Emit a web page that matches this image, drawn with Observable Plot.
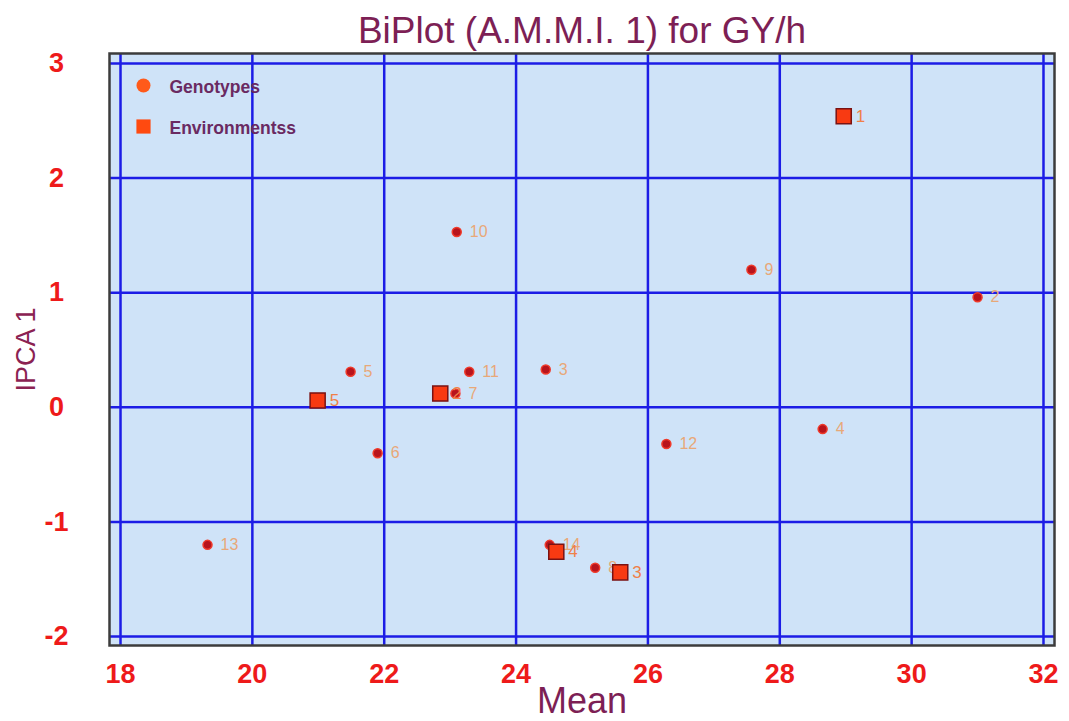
<!DOCTYPE html>
<html>
<head>
<meta charset="utf-8">
<script src="https://cdn.jsdelivr.net/npm/d3@7"></script>
<script src="https://cdn.jsdelivr.net/npm/@observablehq/plot@0.6"></script>
<style>
  html, body { margin: 0; padding: 0; background: #ffffff; }
  #chart { width: 1069px; height: 721px; }
</style>
</head>
<body>
<div id="chart"></div>
<script>
const titleText = "BiPlot (A.M.M.I. 1) for GY/h";
const xLabel = "Mean";
const yLabel = "IPCA 1";

const xTicks = [18, 20, 22, 24, 26, 28, 30, 32];
const yTicks = [-2, -1, 0, 1, 2, 3];

const genoLabels = ["2", "3", "4", "5", "6", "7", "8", "9", "10", "11", "12", "13", "14"];
const genoMean   = [31.0, 24.45, 28.65, 21.49, 21.90, 23.08, 25.20, 27.57, 23.10, 23.29, 26.28, 19.32, 24.51];
const genoIPCA   = [0.96, 0.33, -0.19, 0.31, -0.40, 0.12, -1.40, 1.20, 1.53, 0.31, -0.32, -1.20, -1.20];

const envLabels = ["1", "2", "3", "4", "5"];
const envMean   = [28.97, 22.85, 25.58, 24.61, 20.99];
const envIPCA   = [2.54, 0.12, -1.44, -1.26, 0.06];

const legendLabels = ["Genotypes", "Environmentss"];

const geno = genoLabels.map((l, i) => ({label: l, mean: genoMean[i], ipca: genoIPCA[i]}));
const env = envLabels.map((l, i) => ({label: l, mean: envMean[i], ipca: envIPCA[i]}));

const font = "Liberation Sans, Arial, Helvetica, sans-serif";
const gridBlue = "#1c1ce6";
const fmt = d => (d < 0 ? "-" + Math.abs(d) : String(d));

const chart = Plot.plot({
  width: 1069,
  height: 721,
  marginLeft: 109,
  marginRight: 15,
  marginTop: 53,
  marginBottom: 76,
  style: {fontFamily: font, background: "#ffffff"},
  x: {domain: [17.833, 32.167]},
  y: {domain: [-2.078, 3.087]},
  marks: [
    Plot.frame({fill: "#cfe3f8"}),
    Plot.gridX(xTicks, {stroke: gridBlue, strokeOpacity: 1, strokeWidth: 2.5}),
    Plot.gridY(yTicks, {stroke: gridBlue, strokeOpacity: 1, strokeWidth: 2.5}),
    Plot.frame({stroke: "#3c3c3c", strokeWidth: 2.5}),
    Plot.axisX({ticks: xTicks, tickFormat: fmt, tickSize: 0, tickPadding: 18, fill: "#ee1a1a", fontSize: 27, fontWeight: "bold", label: null}),
    Plot.axisY({ticks: yTicks, tickFormat: fmt, tickSize: 0, tickPadding: 53, textAnchor: "middle", fill: "#ee1a1a", fontSize: 27, fontWeight: "bold", label: null}),
    // genotypes
    Plot.dot(geno, {x: "mean", y: "ipca", r: 4.5, fill: "#b8141c", stroke: "#f03a2a", strokeWidth: 1.5}),
    Plot.text(geno, {x: "mean", y: "ipca", text: "label", dx: 13, textAnchor: "start", fill: "#e8a878", fontSize: 16}),
    // environments
    Plot.dot(env, {x: "mean", y: "ipca", symbol: "square", r: 8.5, fill: "#f83a12", stroke: "#7a1212", strokeWidth: 1.5}),
    Plot.text(env, {x: "mean", y: "ipca", text: "label", dx: 12, textAnchor: "start", fill: "#f08048", fontSize: 17}),
    // legend
    Plot.dot([legendLabels[0]], {frameAnchor: "top-left", dx: 34, dy: 32, r: 7, fill: "#ff5a1a"}),
    Plot.dot([legendLabels[1]], {frameAnchor: "top-left", dx: 34, dy: 73, symbol: "square", r: 8, fill: "#ff4a10"}),
    Plot.text([legendLabels[0]], {frameAnchor: "top-left", dx: 60, dy: 34, lineAnchor: "middle", text: d => d, textAnchor: "start", fill: "#6a2a62", fontSize: 17.5, fontWeight: "bold"}),
    Plot.text([legendLabels[1]], {frameAnchor: "top-left", dx: 60, dy: 75, lineAnchor: "middle", text: d => d, textAnchor: "start", fill: "#6a2a62", fontSize: 17.5, fontWeight: "bold"}),
    // title and axis labels
    Plot.text([titleText], {frameAnchor: "top", dy: -22, lineAnchor: "middle", text: d => d, fill: "#7d1f55", fontSize: 37}),
    Plot.text([xLabel], {frameAnchor: "bottom", dy: 56, lineAnchor: "middle", text: d => d, fill: "#7d1f55", fontSize: 36}),
    Plot.text([yLabel], {frameAnchor: "left", dx: -83, dy: 0, rotate: -90, textAnchor: "middle", lineAnchor: "middle", text: d => d, fill: "#8b2252", fontSize: 27})
  ]
});
document.getElementById("chart").appendChild(chart);
</script>
</body>
</html>
